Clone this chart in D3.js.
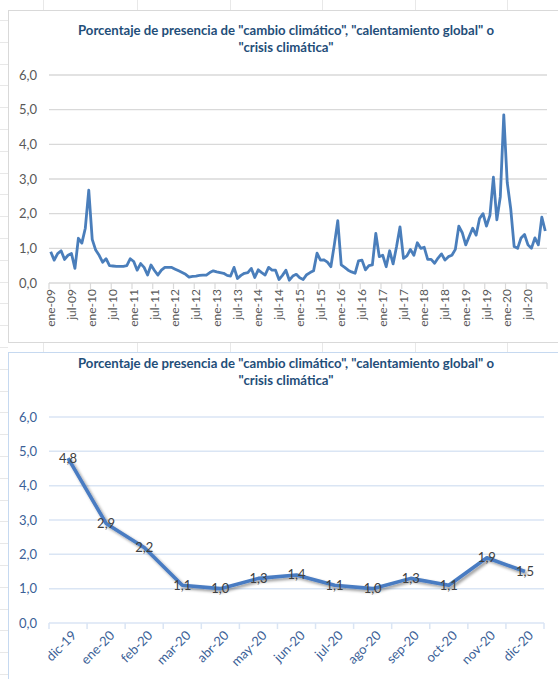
<!DOCTYPE html>
<html>
<head>
<meta charset="utf-8">
<script src="https://cdn.jsdelivr.net/npm/d3@7"></script>
<style>
    body { margin: 0; background: #fff; overflow: hidden; }
    svg { display: block; }
    svg text { font-family: Lato, "Open Sans", sans-serif; }
</style>
</head>
<body>
<div id="page"></div>
<script>

// meses de la serie mensual (ene-09 ... dic-20)
let mesesAbrev = ["ene", "feb", "mar", "abr", "may", "jun", "jul", "ago", "sep", "oct", "nov", "dic"];
let anios = ["09", "10", "11", "12", "13", "14", "15", "16", "17", "18", "19", "20"];

// porcentaje mensual, un array por año
let v2009 = [0.90, 0.66, 0.85, 0.93, 0.68, 0.80, 0.85, 0.42, 1.29, 1.15, 1.58, 2.68];
let v2010 = [1.26, 0.95, 0.80, 0.60, 0.70, 0.50, 0.49, 0.48, 0.48, 0.48, 0.50, 0.70];
let v2011 = [0.62, 0.37, 0.56, 0.45, 0.23, 0.52, 0.36, 0.23, 0.37, 0.45, 0.45, 0.45];
let v2012 = [0.40, 0.35, 0.30, 0.25, 0.17, 0.19, 0.20, 0.22, 0.23, 0.23, 0.30, 0.35];
let v2013 = [0.32, 0.30, 0.28, 0.22, 0.20, 0.45, 0.13, 0.22, 0.28, 0.30, 0.42, 0.16];
let v2014 = [0.38, 0.30, 0.23, 0.45, 0.37, 0.37, 0.10, 0.22, 0.37, 0.08, 0.20, 0.25];
let v2015 = [0.15, 0.10, 0.24, 0.30, 0.35, 0.86, 0.66, 0.67, 0.60, 0.47, 1.10, 1.80];
let v2016 = [0.52, 0.45, 0.37, 0.32, 0.28, 0.64, 0.66, 0.38, 0.50, 0.52, 1.43, 0.76];
let v2017 = [0.80, 0.47, 0.93, 0.55, 1.05, 1.62, 0.71, 0.78, 0.97, 0.80, 1.16, 1.00];
let v2018 = [1.03, 0.68, 0.68, 0.57, 0.72, 0.84, 0.66, 0.76, 0.80, 0.97, 1.64, 1.45];
let v2019 = [1.10, 1.34, 1.58, 1.38, 1.86, 2.00, 1.64, 1.95, 3.05, 1.82, 2.49, 4.85];
let v2020 = [2.90, 2.15, 1.05, 1.00, 1.30, 1.40, 1.10, 1.00, 1.30, 1.10, 1.90, 1.50];

// segundo gráfico: dic-19 a dic-20
let categorias13 = ["dic-19", "ene-20", "feb-20", "mar-20", "abr-20", "may-20", "jun-20",
    "jul-20", "ago-20", "sep-20", "oct-20", "nov-20", "dic-20"];
let valores13 = [4.8, 2.9, 2.2, 1.1, 1.0, 1.3, 1.4, 1.1, 1.0, 1.3, 1.1, 1.9, 1.5];

let yTicks = [0, 1, 2, 3, 4, 5, 6];
let tituloL1 = 'Porcentaje de presencia de "cambio climático", "calentamiento global" o';
let tituloL2 = '"crisis climática"';

// build the monthly table
let porAnio = [v2009, v2010, v2011, v2012, v2013, v2014, v2015, v2016, v2017, v2018, v2019, v2020];
let mensual = [];
porAnio.forEach((vals, a) => {
    vals.forEach((v, m) => mensual.push({cat: mesesAbrev[m] + "-" + anios[a], value: v}));
});
let serie13 = categorias13.map((c, i) => ({cat: c, value: valores13[i]}));

let es = d3.formatLocale({decimal: ",", thousands: ".", grouping: [3], currency: ["", "€"]});
let fmt = es.format(".1f");

let svg = d3.select("#page").append("svg")
    .attr("width", 558)
    .attr("height", 679);

// faint spreadsheet cells, only visible in the margins
let bg = svg.append("g").attr("stroke", "#e8e8e8").attr("stroke-width", 1);
[43, 137, 230, 322, 415, 507].forEach(x => {
    bg.append("line").attr("x1", x + 0.5).attr("x2", x + 0.5).attr("y1", 0).attr("y2", 10);
    bg.append("line").attr("x1", x + 0.5).attr("x2", x + 0.5).attr("y1", 343).attr("y2", 352);
});
d3.range(20, 679, 21.8).forEach(y => {
    bg.append("line").attr("x1", 0).attr("x2", 8).attr("y1", Math.round(y) + 0.5).attr("y2", Math.round(y) + 0.5);
});

let defs = svg.append("defs");
let f = defs.append("filter").attr("id", "sombra").attr("x", "-10%").attr("y", "-10%").attr("width", "130%").attr("height", "130%");
f.append("feGaussianBlur").attr("in", "SourceAlpha").attr("stdDeviation", 1.6).attr("result", "b");
f.append("feOffset").attr("in", "b").attr("dx", 1.5).attr("dy", 2).attr("result", "o");
f.append("feComponentTransfer").attr("in", "o").attr("result", "s")
    .append("feFuncA").attr("type", "linear").attr("slope", 0.4);
let fm = f.append("feMerge");
fm.append("feMergeNode").attr("in", "s");
fm.append("feMergeNode").attr("in", "SourceGraphic");

function titulo(g, y, color) {
    g.append("text")
        .attr("x", 286).attr("y", y)
        .attr("text-anchor", "middle")
        .attr("font-size", 13).attr("font-weight", "bold")
        .attr("fill", color)
        .attr("textLength", 416).attr("lengthAdjust", "spacingAndGlyphs")
        .text(tituloL1);
    g.append("text")
        .attr("x", 286).attr("y", y + 17)
        .attr("text-anchor", "middle")
        .attr("font-size", 13).attr("font-weight", "bold")
        .attr("fill", color)
        .attr("textLength", 95).attr("lengthAdjust", "spacingAndGlyphs")
        .text(tituloL2);
}

// ---------- gráfico 1: serie mensual ----------
let g1 = svg.append("g");
g1.append("rect")
    .attr("x", 8.5).attr("y", 10.5)
    .attr("width", 560).attr("height", 332)
    .attr("fill", "#fff").attr("stroke", "#d9d9d9");

titulo(g1, 35, "#1f4e79");

let x1 = d3.scaleBand().domain(mensual.map(d => d.cat)).range([49, 547]).padding(0);
let y1 = d3.scaleLinear().domain([0, 6]).range([283, 75]);

g1.selectAll(".grid")
    .data(yTicks)
    .enter().append("line")
    .attr("x1", 49).attr("x2", 547)
    .attr("y1", d => y1(d)).attr("y2", d => y1(d))
    .attr("stroke", "#d9d9d9").attr("stroke-width", 1.3);

g1.selectAll(".ylab")
    .data(yTicks)
    .enter().append("text")
    .attr("x", 37).attr("y", d => y1(d))
    .attr("dy", "0.35em")
    .attr("text-anchor", "end")
    .attr("font-size", 13).attr("fill", "#595959")
    .text(d => fmt(d));

// ticks every 6 months at category borders
let bw1 = x1.bandwidth();
let bordes1 = d3.range(0, mensual.length + 1, 6);
g1.selectAll(".tick")
    .data(bordes1)
    .enter().append("line")
    .attr("x1", d => 49 + d * bw1).attr("x2", d => 49 + d * bw1)
    .attr("y1", 283).attr("y2", 289)
    .attr("stroke", "#d9d9d9").attr("stroke-width", 1.2);

g1.selectAll(".xlab")
    .data(mensual.filter((d, i) => i % 6 === 0))
    .enter().append("text")
    .attr("transform", d => `translate(${x1(d.cat) + bw1 / 2}, 289) rotate(-90)`)
    .attr("dy", "0.35em")
    .attr("text-anchor", "end")
    .attr("font-size", 12).attr("fill", "#595959")
    .text(d => d.cat);

let linea1 = d3.line()
    .x(d => x1(d.cat) + bw1 / 2)
    .y(d => y1(d.value));

g1.append("path")
    .datum(mensual)
    .attr("d", linea1)
    .attr("fill", "none")
    .attr("stroke", "#4a7ebb")
    .attr("stroke-width", 2.8)
    .attr("stroke-linejoin", "round");

// ---------- gráfico 2: dic-19 a dic-20 ----------
let g2 = svg.append("g");
g2.append("rect")
    .attr("x", 8.5).attr("y", 352.5)
    .attr("width", 560).attr("height", 340)
    .attr("fill", "#fff").attr("stroke", "#c6d9f0");

titulo(g2, 368, "#1f4e79");

let x2 = d3.scaleBand().domain(categorias13).range([49, 544]).padding(0);
let y2 = d3.scaleLinear().domain([0, 6]).range([623, 417]);
let bw2 = x2.bandwidth();

g2.selectAll(".grid")
    .data(yTicks)
    .enter().append("line")
    .attr("x1", 49).attr("x2", 544)
    .attr("y1", d => y2(d)).attr("y2", d => y2(d))
    .attr("stroke", "#dae5f4").attr("stroke-width", 1.5);

g2.selectAll(".ylab")
    .data(yTicks)
    .enter().append("text")
    .attr("x", 37).attr("y", d => y2(d))
    .attr("dy", "0.35em")
    .attr("text-anchor", "end")
    .attr("font-size", 13).attr("fill", "#3b5f97")
    .text(d => fmt(d));

g2.selectAll(".tick")
    .data(d3.range(0, categorias13.length + 1))
    .enter().append("line")
    .attr("x1", d => 49 + d * bw2).attr("x2", d => 49 + d * bw2)
    .attr("y1", 623).attr("y2", 629)
    .attr("stroke", "#dae5f4").attr("stroke-width", 1.5);

g2.selectAll(".xlab")
    .data(categorias13)
    .enter().append("text")
    .attr("transform", d => `translate(${x2(d) + bw2 / 2 + 6}, 633) rotate(-45)`)
    .attr("dy", "0.35em")
    .attr("text-anchor", "end")
    .attr("font-size", 13).attr("fill", "#3b5f97")
    .text(d => d);

let linea2 = d3.line()
    .x(d => x2(d.cat) + bw2 / 2)
    .y(d => y2(d.value));

g2.append("path")
    .datum(serie13)
    .attr("d", linea2)
    .attr("fill", "none")
    .attr("stroke", "#4a7cc2")
    .attr("stroke-width", 3.6)
    .attr("stroke-linejoin", "round")
    .attr("filter", "url(#sombra)");

g2.selectAll(".dlab")
    .data(serie13)
    .enter().append("text")
    .attr("x", d => x2(d.cat) + bw2 / 2)
    .attr("y", d => y2(d.value))
    .attr("dy", "0.35em")
    .attr("text-anchor", "middle")
    .attr("font-size", 13).attr("fill", "#404040")
    .text(d => fmt(d.value));

</script>
</body>
</html>
